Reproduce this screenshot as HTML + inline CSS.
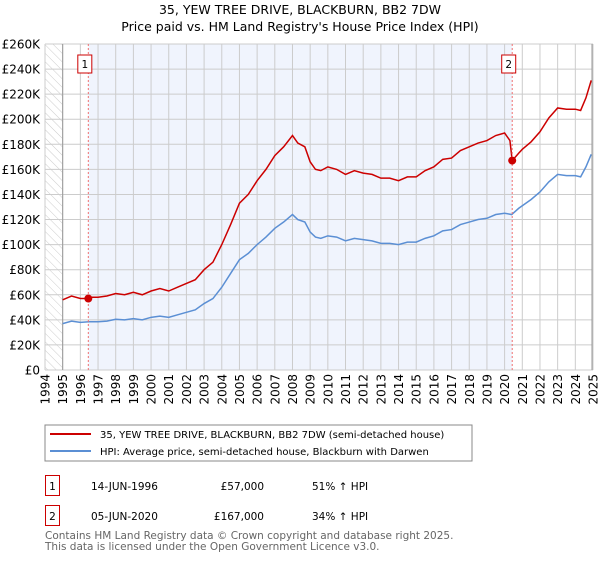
<!DOCTYPE html>
<html><head><meta charset="utf-8"><style>
body{margin:0;background:#fff;font-family:"DejaVu Sans","Liberation Sans",sans-serif;}
svg text{font-family:"DejaVu Sans","Liberation Sans",sans-serif;}
</style></head><body>
<svg id="c" width="600" height="560" xmlns="http://www.w3.org/2000/svg">
<defs><pattern id="hatch" width="6" height="6" patternUnits="userSpaceOnUse" patternTransform="rotate(-45)"><line x1="0" y1="0" x2="0" y2="6" stroke="#ccc" stroke-width="1"/></pattern></defs>
<text x="300" y="14" text-anchor="middle" font-size="12.5" fill="#000">35, YEW TREE DRIVE, BLACKBURN, BB2 7DW</text>
<text x="300" y="31" text-anchor="middle" font-size="12.5" fill="#000">Price paid vs. HM Land Registry's House Price Index (HPI)</text>
<g id="plot"></g>
<rect x="45" y="425" width="427" height="36" fill="#fff" stroke="#888"/>
<line x1="50" y1="434" x2="91" y2="434" stroke="#cc0000" stroke-width="2"/>
<text x="100" y="438" font-size="10">35, YEW TREE DRIVE, BLACKBURN, BB2 7DW (semi-detached house)</text>
<line x1="50" y1="451" x2="91" y2="451" stroke="#5b8fd4" stroke-width="2"/>
<text x="100" y="455" font-size="10">HPI: Average price, semi-detached house, Blackburn with Darwen</text>
<rect x="45.5" y="475.5" width="14" height="20" fill="#fff" stroke="#cc0000"/>
<text x="52.5" y="490" text-anchor="middle" font-size="10.5">1</text>
<text x="91" y="490" font-size="10.5">14-JUN-1996</text>
<text x="264" y="490" text-anchor="end" font-size="10.5">£57,000</text>
<text x="312" y="490" font-size="10.5">51% ↑ HPI</text>
<rect x="45.5" y="505.5" width="14" height="20" fill="#fff" stroke="#cc0000"/>
<text x="52.5" y="520" text-anchor="middle" font-size="10.5">2</text>
<text x="91" y="520" font-size="10.5">05-JUN-2020</text>
<text x="264" y="520" text-anchor="end" font-size="10.5">£167,000</text>
<text x="312" y="520" font-size="10.5">34% ↑ HPI</text>
<text x="45" y="539" font-size="10.5" fill="#666">Contains HM Land Registry data © Crown copyright and database right 2025.</text>
<text x="45" y="550" font-size="10.5" fill="#666">This data is licensed under the Open Government Licence v3.0.</text>
</svg>
<script>
const hpiYears=[1995,1995.5,1996,1996.5,1997,1997.5,1998,1998.5,1999,1999.5,2000,2000.5,2001,2001.5,2002,2002.5,2003,2003.5,2004,2004.5,2005,2005.5,2006,2006.5,2007,2007.5,2008,2008.3,2008.7,2009,2009.3,2009.6,2010,2010.5,2011,2011.5,2012,2012.5,2013,2013.5,2014,2014.5,2015,2015.5,2016,2016.5,2017,2017.5,2018,2018.5,2019,2019.5,2020,2020.4,2020.8,2021,2021.5,2022,2022.5,2023,2023.5,2024,2024.3,2024.6,2024.9];
const hpiValues=[37,39,38,38.5,38.5,39,40.5,40,41,40,42,43,42,44,46,48,53,57,66,77,88,93,100,106,113,118,124,120,118,110,106,105,107,106,103,105,104,103,101,101,100,102,102,105,107,111,112,116,118,120,121,124,125,124,129,131,136,142,150,156,155,155,154,162,172];
const redYears=[1995,1995.5,1996,1996.45,1996.5,1997,1997.5,1998,1998.5,1999,1999.5,2000,2000.5,2001,2001.5,2002,2002.5,2003,2003.5,2004,2004.5,2005,2005.5,2006,2006.5,2007,2007.5,2008,2008.3,2008.7,2009,2009.3,2009.6,2010,2010.5,2011,2011.5,2012,2012.5,2013,2013.5,2014,2014.5,2015,2015.5,2016,2016.5,2017,2017.5,2018,2018.5,2019,2019.5,2020,2020.3,2020.43,2020.8,2021,2021.5,2022,2022.5,2023,2023.5,2024,2024.3,2024.6,2024.9];
const redValues=[56,59,57,57,58,58,59,61,60,62,60,63,65,63,66,69,72,80,86,100,116,133,140,151,160,171,178,187,181,178,166,160,159,162,160,156,159,157,156,153,153,151,154,154,159,162,168,169,175,178,181,183,187,189,183,167,173,176,182,190,201,209,208,208,207,217,231];
const saleYears=[1996.45,2020.43];
const saleValues=[57,167];
const saleLabels=["1","2"];
const yTicks=[0,20,40,60,80,100,120,140,160,180,200,220,240,260];
const xTicks=[1994,1995,1996,1997,1998,1999,2000,2001,2002,2003,2004,2005,2006,2007,2008,2009,2010,2011,2012,2013,2014,2015,2016,2017,2018,2019,2020,2021,2022,2023,2024,2025];
const X0=45,X1=593,Y0=370,Y1=44;
const xs=v=>X0+(v-1994)/31*(X1-X0);
const ys=v=>Y0-v/260*(Y0-Y1);
const NS="http://www.w3.org/2000/svg";
const g=document.getElementById('plot');
function mk(t,a){const e=document.createElementNS(NS,t);for(const k in a)e.setAttribute(k,a[k]);g.appendChild(e);return e;}
let e;
e=mk('rect',{x:X0,y:Y1,width:X1-X0,height:Y0-Y1,fill:'#fff'});


e=mk('rect',{x:X0,y:Y1,width:xs(1995)-X0,height:Y0-Y1,fill:'url(#hatch)'});


e=mk('rect',{x:xs(saleYears[0]),y:Y1,width:xs(saleYears[1])-xs(saleYears[0]),height:Y0-Y1,fill:'#f0f4fd'});


yTicks.forEach(t=>{
 e=mk('line',{x1:X0,x2:X1,y1:ys(t),y2:ys(t),stroke:'#ccc','stroke-width':1});
 
 
 e=mk('text',{x:40,y:ys(t)+4.5,'text-anchor':'end','font-size':'12'});
 e.textContent=t===0?'£0':'£'+t+'K';
 
 
});
xTicks.forEach(t=>{
 e=mk('line',{x1:xs(t),x2:xs(t),y1:Y1,y2:Y0,stroke:'#ccc','stroke-width':1});
 
 
 e=mk('text',{x:0,y:0,'font-size':'12','text-anchor':'end',transform:`translate(${xs(t)+4.5},374) rotate(-90)`});
 e.textContent=t;
 
 
});
e=mk('line',{x1:xs(1995),x2:xs(1995),y1:Y1,y2:Y0,stroke:'#999','stroke-width':1});


e=mk('line',{x1:X1-1,x2:X1-1,y1:Y1,y2:Y0,stroke:'#999','stroke-width':1});


e=mk('polyline',{points:hpiYears.map((y,i)=>xs(y)+','+ys(hpiValues[i])).join(' '),fill:'none',stroke:'#5b8fd4','stroke-width':1.5});


e=mk('polyline',{points:redYears.map((y,i)=>xs(y)+','+ys(redValues[i])).join(' '),fill:'none',stroke:'#cc0000','stroke-width':1.5});


saleYears.forEach((y,i)=>{
 e=mk('line',{x1:xs(y),x2:xs(y),y1:Y1,y2:Y0,stroke:'#f07070','stroke-width':1,'stroke-dasharray':'2,2'});
 
 
 e=mk('circle',{cx:xs(y),cy:ys(saleValues[i]),r:4,fill:'#cc0000'});
 
 
 e=mk('rect',{x:xs(y)-10.5,y:55,width:14,height:18,fill:'#fff',stroke:'#cc0000'});
 
 
 e=mk('text',{x:xs(y)-3.5,y:68,'text-anchor':'middle','font-size':'10.5'});
 e.textContent=saleLabels[i];
 
 
});
</script>
</body></html>
